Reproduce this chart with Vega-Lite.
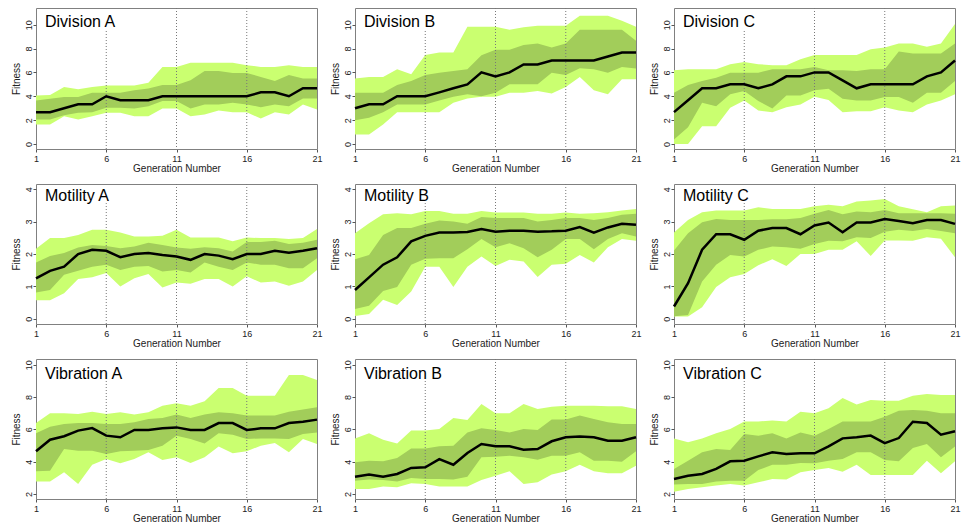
{
"$schema":"https://vega.github.io/schema/vega-lite/v6.json",
"padding":{"left":10,"top":7,"right":0,"bottom":3},
"data":{"values":[
{"r":"D","c":"A","g":1,"lo":1.63,"q1":2.05,"md":2.67,"q3":3.65,"hi":4.07,"n":"Division A"},
{"r":"D","c":"A","g":2,"lo":1.63,"q1":2.05,"md":2.67,"q3":3.8,"hi":4.1},
{"r":"D","c":"A","g":3,"lo":2.33,"q1":2.4,"md":3.0,"q3":3.93,"hi":4.78},
{"r":"D","c":"A","g":4,"lo":2.05,"q1":2.61,"md":3.33,"q3":3.93,"hi":4.58},
{"r":"D","c":"A","g":5,"lo":2.33,"q1":2.67,"md":3.33,"q3":4.3,"hi":4.78},
{"r":"D","c":"A","g":6,"lo":2.61,"q1":3.03,"md":4.0,"q3":4.3,"hi":4.9},
{"r":"D","c":"A","g":7,"lo":2.61,"q1":3.03,"md":3.67,"q3":4.3,"hi":4.9},
{"r":"D","c":"A","g":8,"lo":2.33,"q1":2.98,"md":3.67,"q3":4.5,"hi":4.9},
{"r":"D","c":"A","g":9,"lo":2.33,"q1":3.17,"md":3.67,"q3":4.66,"hi":5.14},
{"r":"D","c":"A","g":10,"lo":2.98,"q1":3.6,"md":4.0,"q3":4.94,"hi":6.46},
{"r":"D","c":"A","g":11,"lo":2.98,"q1":3.6,"md":4.0,"q3":4.94,"hi":6.46},
{"r":"D","c":"A","g":12,"lo":2.33,"q1":2.98,"md":4.0,"q3":5.34,"hi":6.8},
{"r":"D","c":"A","g":13,"lo":2.47,"q1":3.31,"md":4.0,"q3":6.12,"hi":6.8},
{"r":"D","c":"A","g":14,"lo":2.81,"q1":3.31,"md":4.0,"q3":6.12,"hi":6.8},
{"r":"D","c":"A","g":15,"lo":2.67,"q1":3.45,"md":4.0,"q3":5.96,"hi":6.8},
{"r":"D","c":"A","g":16,"lo":2.67,"q1":3.31,"md":4.0,"q3":5.96,"hi":6.6},
{"r":"D","c":"A","g":17,"lo":2.13,"q1":3.09,"md":4.33,"q3":5.62,"hi":6.46},
{"r":"D","c":"A","g":18,"lo":2.67,"q1":3.31,"md":4.33,"q3":5.28,"hi":6.46},
{"r":"D","c":"A","g":19,"lo":2.47,"q1":3.17,"md":4.0,"q3":5.79,"hi":6.6},
{"r":"D","c":"A","g":20,"lo":3.31,"q1":3.82,"md":4.67,"q3":5.48,"hi":6.46},
{"r":"D","c":"A","g":21,"lo":2.9,"q1":3.82,"md":4.67,"q3":5.48,"hi":6.46},
{"r":"D","c":"B","g":1,"lo":0.79,"q1":2.0,"md":3.0,"q3":4.3,"hi":5.5,"n":"Division B"},
{"r":"D","c":"B","g":2,"lo":0.79,"q1":2.19,"md":3.33,"q3":4.3,"hi":5.62},
{"r":"D","c":"B","g":3,"lo":1.63,"q1":2.67,"md":3.33,"q3":4.3,"hi":5.62},
{"r":"D","c":"B","g":4,"lo":2.67,"q1":3.31,"md":4.0,"q3":4.94,"hi":6.26},
{"r":"D","c":"B","g":5,"lo":2.67,"q1":3.31,"md":4.0,"q3":5.28,"hi":5.84},
{"r":"D","c":"B","g":6,"lo":2.67,"q1":3.31,"md":4.0,"q3":5.79,"hi":7.47},
{"r":"D","c":"B","g":7,"lo":2.67,"q1":3.65,"md":4.33,"q3":5.98,"hi":7.67},
{"r":"D","c":"B","g":8,"lo":3.45,"q1":3.96,"md":4.67,"q3":6.12,"hi":7.67},
{"r":"D","c":"B","g":9,"lo":3.82,"q1":4.16,"md":5.0,"q3":6.26,"hi":9.83},
{"r":"D","c":"B","g":10,"lo":3.96,"q1":4.0,"md":6.0,"q3":7.44,"hi":9.83},
{"r":"D","c":"B","g":11,"lo":3.96,"q1":4.3,"md":5.67,"q3":7.9,"hi":9.83},
{"r":"D","c":"B","g":12,"lo":4.3,"q1":5.0,"md":6.0,"q3":7.9,"hi":9.58},
{"r":"D","c":"B","g":13,"lo":4.3,"q1":5.0,"md":6.67,"q3":8.29,"hi":9.78},
{"r":"D","c":"B","g":14,"lo":4.44,"q1":5.0,"md":6.67,"q3":8.43,"hi":9.92},
{"r":"D","c":"B","g":15,"lo":4.24,"q1":5.98,"md":7.0,"q3":8.09,"hi":9.92},
{"r":"D","c":"B","g":16,"lo":4.78,"q1":5.79,"md":7.0,"q3":8.43,"hi":9.92},
{"r":"D","c":"B","g":17,"lo":5.62,"q1":6.35,"md":7.0,"q3":9.58,"hi":10.76},
{"r":"D","c":"B","g":18,"lo":4.5,"q1":6.26,"md":7.0,"q3":9.58,"hi":10.76},
{"r":"D","c":"B","g":19,"lo":4.16,"q1":5.98,"md":7.33,"q3":9.58,"hi":10.76},
{"r":"D","c":"B","g":20,"lo":5.42,"q1":6.46,"md":7.67,"q3":9.58,"hi":10.34},
{"r":"D","c":"B","g":21,"lo":5.42,"q1":6.32,"md":7.67,"q3":8.65,"hi":9.83},
{"r":"D","c":"C","g":1,"lo":0.0,"q1":0.37,"md":2.67,"q3":4.3,"hi":6.18,"n":"Division C"},
{"r":"D","c":"C","g":2,"lo":0.0,"q1":1.4,"md":3.67,"q3":4.94,"hi":6.26},
{"r":"D","c":"C","g":3,"lo":1.49,"q1":3.45,"md":4.67,"q3":5.28,"hi":6.26},
{"r":"D","c":"C","g":4,"lo":1.49,"q1":3.17,"md":4.67,"q3":5.56,"hi":6.26},
{"r":"D","c":"C","g":5,"lo":3.03,"q1":4.16,"md":5.0,"q3":5.98,"hi":6.69},
{"r":"D","c":"C","g":6,"lo":3.65,"q1":4.44,"md":5.0,"q3":5.98,"hi":6.88},
{"r":"D","c":"C","g":7,"lo":2.81,"q1":3.6,"md":4.67,"q3":5.98,"hi":6.69},
{"r":"D","c":"C","g":8,"lo":2.67,"q1":2.98,"md":5.0,"q3":6.26,"hi":6.6},
{"r":"D","c":"C","g":9,"lo":3.09,"q1":4.07,"md":5.67,"q3":6.26,"hi":6.6},
{"r":"D","c":"C","g":10,"lo":3.31,"q1":4.07,"md":5.67,"q3":6.26,"hi":7.1},
{"r":"D","c":"C","g":11,"lo":3.96,"q1":4.5,"md":6.0,"q3":6.46,"hi":7.47},
{"r":"D","c":"C","g":12,"lo":3.68,"q1":4.63,"md":6.0,"q3":6.18,"hi":7.47},
{"r":"D","c":"C","g":13,"lo":2.67,"q1":3.8,"md":5.33,"q3":6.18,"hi":7.47},
{"r":"D","c":"C","g":14,"lo":2.75,"q1":3.65,"md":4.67,"q3":6.12,"hi":7.47},
{"r":"D","c":"C","g":15,"lo":2.75,"q1":3.65,"md":5.0,"q3":6.26,"hi":7.95},
{"r":"D","c":"C","g":16,"lo":3.09,"q1":3.93,"md":5.0,"q3":6.26,"hi":8.09},
{"r":"D","c":"C","g":17,"lo":2.81,"q1":3.93,"md":5.0,"q3":7.75,"hi":8.43},
{"r":"D","c":"C","g":18,"lo":2.67,"q1":3.45,"md":5.0,"q3":7.58,"hi":8.43},
{"r":"D","c":"C","g":19,"lo":3.31,"q1":4.3,"md":5.67,"q3":7.58,"hi":8.15},
{"r":"D","c":"C","g":20,"lo":3.65,"q1":4.3,"md":6.0,"q3":7.58,"hi":8.43},
{"r":"D","c":"C","g":21,"lo":4.16,"q1":5.28,"md":7.0,"q3":8.43,"hi":10.06},
{"r":"M","c":"A","g":1,"lo":0.57,"q1":0.81,"md":1.25,"q3":1.74,"hi":2.16,"n":"Motility A"},
{"r":"M","c":"A","g":2,"lo":0.57,"q1":0.89,"md":1.48,"q3":1.94,"hi":2.49},
{"r":"M","c":"A","g":3,"lo":0.79,"q1":1.36,"md":1.61,"q3":2.03,"hi":2.49},
{"r":"M","c":"A","g":4,"lo":1.23,"q1":1.48,"md":2.0,"q3":2.2,"hi":2.59},
{"r":"M","c":"A","g":5,"lo":1.28,"q1":1.61,"md":2.13,"q3":2.28,"hi":2.75},
{"r":"M","c":"A","g":6,"lo":1.41,"q1":1.67,"md":2.1,"q3":2.25,"hi":2.75},
{"r":"M","c":"A","g":7,"lo":1.0,"q1":1.51,"md":1.9,"q3":2.18,"hi":2.66},
{"r":"M","c":"A","g":8,"lo":1.25,"q1":1.61,"md":2.0,"q3":2.23,"hi":2.54},
{"r":"M","c":"A","g":9,"lo":1.38,"q1":1.63,"md":2.03,"q3":2.35,"hi":2.54},
{"r":"M","c":"A","g":10,"lo":0.97,"q1":1.46,"md":1.97,"q3":2.28,"hi":2.56},
{"r":"M","c":"A","g":11,"lo":1.12,"q1":1.51,"md":1.92,"q3":2.2,"hi":2.75},
{"r":"M","c":"A","g":12,"lo":1.08,"q1":1.43,"md":1.82,"q3":2.16,"hi":2.51},
{"r":"M","c":"A","g":13,"lo":1.23,"q1":1.74,"md":2.0,"q3":2.21,"hi":2.51},
{"r":"M","c":"A","g":14,"lo":1.23,"q1":1.61,"md":1.95,"q3":2.18,"hi":2.51},
{"r":"M","c":"A","g":15,"lo":1.0,"q1":1.51,"md":1.84,"q3":2.08,"hi":2.39},
{"r":"M","c":"A","g":16,"lo":1.31,"q1":1.74,"md":2.0,"q3":2.37,"hi":2.51},
{"r":"M","c":"A","g":17,"lo":1.12,"q1":1.67,"md":2.0,"q3":2.37,"hi":2.49},
{"r":"M","c":"A","g":18,"lo":1.15,"q1":1.67,"md":2.1,"q3":2.41,"hi":2.49},
{"r":"M","c":"A","g":19,"lo":1.02,"q1":1.56,"md":2.04,"q3":2.31,"hi":2.46},
{"r":"M","c":"A","g":20,"lo":1.15,"q1":1.56,"md":2.1,"q3":2.35,"hi":2.49},
{"r":"M","c":"A","g":21,"lo":1.51,"q1":1.87,"md":2.18,"q3":2.44,"hi":2.77},
{"r":"M","c":"B","g":1,"lo":0.09,"q1":0.3,"md":0.89,"q3":1.84,"hi":2.64,"n":"Motility B"},
{"r":"M","c":"B","g":2,"lo":0.15,"q1":0.4,"md":1.28,"q3":1.97,"hi":2.95},
{"r":"M","c":"B","g":3,"lo":0.59,"q1":0.86,"md":1.67,"q3":2.59,"hi":3.23},
{"r":"M","c":"B","g":4,"lo":0.43,"q1":0.98,"md":1.9,"q3":2.8,"hi":3.26},
{"r":"M","c":"B","g":5,"lo":0.84,"q1":1.67,"md":2.39,"q3":2.8,"hi":3.23},
{"r":"M","c":"B","g":6,"lo":1.61,"q1":1.85,"md":2.56,"q3":2.93,"hi":3.33},
{"r":"M","c":"B","g":7,"lo":1.61,"q1":1.87,"md":2.66,"q3":3.03,"hi":3.33},
{"r":"M","c":"B","g":8,"lo":0.98,"q1":1.87,"md":2.66,"q3":3.0,"hi":3.24},
{"r":"M","c":"B","g":9,"lo":1.61,"q1":2.15,"md":2.68,"q3":2.93,"hi":3.24},
{"r":"M","c":"B","g":10,"lo":1.92,"q1":2.46,"md":2.77,"q3":3.14,"hi":3.33},
{"r":"M","c":"B","g":11,"lo":1.63,"q1":2.21,"md":2.69,"q3":3.11,"hi":3.28},
{"r":"M","c":"B","g":12,"lo":1.82,"q1":2.33,"md":2.72,"q3":3.11,"hi":3.28},
{"r":"M","c":"B","g":13,"lo":1.77,"q1":2.18,"md":2.72,"q3":3.11,"hi":3.28},
{"r":"M","c":"B","g":14,"lo":1.29,"q1":1.9,"md":2.69,"q3":3.0,"hi":3.24},
{"r":"M","c":"B","g":15,"lo":1.67,"q1":2.13,"md":2.7,"q3":3.05,"hi":3.24},
{"r":"M","c":"B","g":16,"lo":1.7,"q1":2.46,"md":2.72,"q3":3.11,"hi":3.28},
{"r":"M","c":"B","g":17,"lo":1.97,"q1":2.46,"md":2.83,"q3":3.11,"hi":3.24},
{"r":"M","c":"B","g":18,"lo":1.74,"q1":2.15,"md":2.66,"q3":3.05,"hi":3.26},
{"r":"M","c":"B","g":19,"lo":2.21,"q1":2.46,"md":2.82,"q3":3.11,"hi":3.29},
{"r":"M","c":"B","g":20,"lo":2.46,"q1":2.64,"md":2.93,"q3":3.21,"hi":3.34},
{"r":"M","c":"B","g":21,"lo":2.41,"q1":2.54,"md":2.9,"q3":3.24,"hi":3.39},
{"r":"M","c":"C","g":1,"lo":0.07,"q1":0.08,"md":0.38,"q3":2.11,"hi":2.66,"n":"Motility C"},
{"r":"M","c":"C","g":2,"lo":0.07,"q1":0.12,"md":1.1,"q3":2.64,"hi":3.05},
{"r":"M","c":"C","g":3,"lo":0.36,"q1":1.15,"md":2.13,"q3":2.98,"hi":3.29},
{"r":"M","c":"C","g":4,"lo":0.98,"q1":1.67,"md":2.61,"q3":3.08,"hi":3.34},
{"r":"M","c":"C","g":5,"lo":1.28,"q1":1.97,"md":2.61,"q3":3.05,"hi":3.34},
{"r":"M","c":"C","g":6,"lo":1.38,"q1":1.92,"md":2.44,"q3":3.05,"hi":3.34},
{"r":"M","c":"C","g":7,"lo":1.65,"q1":2.13,"md":2.72,"q3":3.05,"hi":3.44},
{"r":"M","c":"C","g":8,"lo":1.84,"q1":2.23,"md":2.8,"q3":3.07,"hi":3.39},
{"r":"M","c":"C","g":9,"lo":1.63,"q1":2.21,"md":2.8,"q3":3.07,"hi":3.39},
{"r":"M","c":"C","g":10,"lo":2.0,"q1":2.16,"md":2.61,"q3":3.11,"hi":3.39},
{"r":"M","c":"C","g":11,"lo":2.0,"q1":2.31,"md":2.88,"q3":3.24,"hi":3.47},
{"r":"M","c":"C","g":12,"lo":2.13,"q1":2.41,"md":2.97,"q3":3.36,"hi":3.52},
{"r":"M","c":"C","g":13,"lo":2.13,"q1":2.39,"md":2.67,"q3":3.23,"hi":3.47},
{"r":"M","c":"C","g":14,"lo":2.39,"q1":2.52,"md":2.97,"q3":3.31,"hi":3.62},
{"r":"M","c":"C","g":15,"lo":1.94,"q1":2.49,"md":2.97,"q3":3.29,"hi":3.65},
{"r":"M","c":"C","g":16,"lo":2.42,"q1":2.69,"md":3.08,"q3":3.36,"hi":3.7},
{"r":"M","c":"C","g":17,"lo":2.42,"q1":2.75,"md":3.02,"q3":3.26,"hi":3.47},
{"r":"M","c":"C","g":18,"lo":2.41,"q1":2.71,"md":2.95,"q3":3.26,"hi":3.38},
{"r":"M","c":"C","g":19,"lo":2.52,"q1":2.77,"md":3.05,"q3":3.26,"hi":3.29},
{"r":"M","c":"C","g":20,"lo":2.47,"q1":2.71,"md":3.05,"q3":3.26,"hi":3.47},
{"r":"M","c":"C","g":21,"lo":1.9,"q1":2.64,"md":2.93,"q3":3.24,"hi":3.5},
{"r":"V","c":"A","g":1,"lo":2.78,"q1":3.4,"md":4.64,"q3":5.75,"hi":6.39,"n":"Vibration A"},
{"r":"V","c":"A","g":2,"lo":2.78,"q1":3.44,"md":5.36,"q3":6.16,"hi":6.99},
{"r":"V","c":"A","g":3,"lo":3.34,"q1":4.78,"md":5.57,"q3":6.33,"hi":6.99},
{"r":"V","c":"A","g":4,"lo":2.62,"q1":4.68,"md":5.92,"q3":6.39,"hi":6.95},
{"r":"V","c":"A","g":5,"lo":3.81,"q1":4.68,"md":6.08,"q3":6.39,"hi":7.09},
{"r":"V","c":"A","g":6,"lo":4.16,"q1":4.47,"md":5.61,"q3":6.33,"hi":6.95},
{"r":"V","c":"A","g":7,"lo":3.9,"q1":4.64,"md":5.51,"q3":6.33,"hi":7.05},
{"r":"V","c":"A","g":8,"lo":4.16,"q1":4.68,"md":5.96,"q3":6.43,"hi":6.91},
{"r":"V","c":"A","g":9,"lo":4.58,"q1":4.72,"md":5.96,"q3":6.64,"hi":7.05},
{"r":"V","c":"A","g":10,"lo":4.1,"q1":4.99,"md":6.06,"q3":6.7,"hi":7.46},
{"r":"V","c":"A","g":11,"lo":4.27,"q1":5.61,"md":6.12,"q3":6.91,"hi":7.61},
{"r":"V","c":"A","g":12,"lo":3.92,"q1":5.4,"md":5.96,"q3":6.7,"hi":7.46},
{"r":"V","c":"A","g":13,"lo":4.27,"q1":5.13,"md":5.96,"q3":6.91,"hi":7.73},
{"r":"V","c":"A","g":14,"lo":4.93,"q1":5.75,"md":6.39,"q3":7.05,"hi":8.56},
{"r":"V","c":"A","g":15,"lo":4.52,"q1":5.67,"md":6.39,"q3":6.99,"hi":8.56},
{"r":"V","c":"A","g":16,"lo":4.64,"q1":5.4,"md":5.96,"q3":6.85,"hi":8.08},
{"r":"V","c":"A","g":17,"lo":4.99,"q1":5.44,"md":6.06,"q3":6.85,"hi":8.08},
{"r":"V","c":"A","g":18,"lo":5.15,"q1":5.44,"md":6.06,"q3":6.85,"hi":8.08},
{"r":"V","c":"A","g":19,"lo":4.58,"q1":5.4,"md":6.39,"q3":7.09,"hi":9.36},
{"r":"V","c":"A","g":20,"lo":5.4,"q1":5.71,"md":6.47,"q3":7.22,"hi":9.36},
{"r":"V","c":"A","g":21,"lo":5.09,"q1":5.81,"md":6.6,"q3":7.36,"hi":9.05},
{"r":"V","c":"B","g":1,"lo":2.31,"q1":2.82,"md":3.07,"q3":3.96,"hi":5.44,"n":"Vibration B"},
{"r":"V","c":"B","g":2,"lo":2.31,"q1":2.89,"md":3.2,"q3":4.06,"hi":5.75},
{"r":"V","c":"B","g":3,"lo":2.47,"q1":2.87,"md":3.07,"q3":4.02,"hi":5.36},
{"r":"V","c":"B","g":4,"lo":2.41,"q1":2.78,"md":3.24,"q3":4.23,"hi":5.13},
{"r":"V","c":"B","g":5,"lo":2.66,"q1":2.99,"md":3.61,"q3":4.82,"hi":5.92},
{"r":"V","c":"B","g":6,"lo":2.62,"q1":2.93,"md":3.65,"q3":4.82,"hi":5.92},
{"r":"V","c":"B","g":7,"lo":2.47,"q1":2.93,"md":4.16,"q3":4.95,"hi":6.02},
{"r":"V","c":"B","g":8,"lo":2.47,"q1":2.89,"md":3.81,"q3":4.99,"hi":6.7},
{"r":"V","c":"B","g":9,"lo":2.47,"q1":3.07,"md":4.54,"q3":5.81,"hi":6.58},
{"r":"V","c":"B","g":10,"lo":2.87,"q1":4.27,"md":5.09,"q3":6.06,"hi":7.57},
{"r":"V","c":"B","g":11,"lo":3.13,"q1":4.31,"md":4.95,"q3":5.96,"hi":6.99},
{"r":"V","c":"B","g":12,"lo":3.4,"q1":4.37,"md":4.95,"q3":5.81,"hi":6.99},
{"r":"V","c":"B","g":13,"lo":2.62,"q1":4.27,"md":4.74,"q3":6.02,"hi":7.57},
{"r":"V","c":"B","g":14,"lo":2.72,"q1":4.12,"md":4.78,"q3":5.96,"hi":7.26},
{"r":"V","c":"B","g":15,"lo":3.2,"q1":4.37,"md":5.26,"q3":6.6,"hi":7.4},
{"r":"V","c":"B","g":16,"lo":3.4,"q1":4.37,"md":5.51,"q3":6.6,"hi":7.46},
{"r":"V","c":"B","g":17,"lo":3.81,"q1":4.58,"md":5.55,"q3":6.85,"hi":7.46},
{"r":"V","c":"B","g":18,"lo":3.4,"q1":4.06,"md":5.51,"q3":6.64,"hi":7.46},
{"r":"V","c":"B","g":19,"lo":3.28,"q1":4.06,"md":5.3,"q3":6.43,"hi":7.42},
{"r":"V","c":"B","g":20,"lo":3.28,"q1":4.0,"md":5.3,"q3":6.33,"hi":7.42},
{"r":"V","c":"B","g":21,"lo":3.75,"q1":4.64,"md":5.51,"q3":6.33,"hi":7.26},
{"r":"V","c":"C","g":1,"lo":2.14,"q1":2.58,"md":2.93,"q3":3.55,"hi":5.44,"n":"Vibration C"},
{"r":"V","c":"C","g":2,"lo":2.31,"q1":2.62,"md":3.13,"q3":4.06,"hi":5.2},
{"r":"V","c":"C","g":3,"lo":2.41,"q1":2.62,"md":3.24,"q3":4.58,"hi":5.44},
{"r":"V","c":"C","g":4,"lo":2.52,"q1":2.78,"md":3.55,"q3":4.78,"hi":5.75},
{"r":"V","c":"C","g":5,"lo":2.62,"q1":2.82,"md":4.02,"q3":4.72,"hi":6.02},
{"r":"V","c":"C","g":6,"lo":2.52,"q1":2.82,"md":4.06,"q3":5.71,"hi":6.49},
{"r":"V","c":"C","g":7,"lo":2.72,"q1":3.48,"md":4.33,"q3":5.61,"hi":6.49},
{"r":"V","c":"C","g":8,"lo":2.93,"q1":3.81,"md":4.58,"q3":5.75,"hi":6.54},
{"r":"V","c":"C","g":9,"lo":2.89,"q1":3.81,"md":4.47,"q3":5.44,"hi":6.49},
{"r":"V","c":"C","g":10,"lo":3.34,"q1":3.92,"md":4.52,"q3":5.81,"hi":7.09},
{"r":"V","c":"C","g":11,"lo":3.48,"q1":3.9,"md":4.52,"q3":5.61,"hi":6.99},
{"r":"V","c":"C","g":12,"lo":3.61,"q1":4.06,"md":4.95,"q3":6.02,"hi":7.3},
{"r":"V","c":"C","g":13,"lo":3.38,"q1":4.16,"md":5.44,"q3":6.49,"hi":7.94},
{"r":"V","c":"C","g":14,"lo":3.81,"q1":4.58,"md":5.51,"q3":6.49,"hi":7.53},
{"r":"V","c":"C","g":15,"lo":3.18,"q1":4.58,"md":5.61,"q3":6.49,"hi":7.81},
{"r":"V","c":"C","g":16,"lo":3.18,"q1":4.1,"md":5.15,"q3":6.78,"hi":7.77},
{"r":"V","c":"C","g":17,"lo":3.18,"q1":4.02,"md":5.46,"q3":7.15,"hi":7.77},
{"r":"V","c":"C","g":18,"lo":3.18,"q1":4.85,"md":6.47,"q3":7.2,"hi":8.08},
{"r":"V","c":"C","g":19,"lo":4.06,"q1":5.09,"md":6.39,"q3":7.15,"hi":8.19},
{"r":"V","c":"C","g":20,"lo":3.28,"q1":4.27,"md":5.67,"q3":6.99,"hi":8.12},
{"r":"V","c":"C","g":21,"lo":4.02,"q1":4.93,"md":5.88,"q3":6.99,"hi":8.12}
]},
"spacing":10,
"vconcat":[
{
"transform":[{"filter":"datum.r=='D'"}],
"facet":{"column":{"field":"c","type":"nominal","title":null,"header":{"labels":false}}},
"spacing":38,
"bounds":"flush",
"resolve":{"axis":{"y":"independent"}},
"spec":{
"width":281,"height":141,
"encoding":{"x":{"field":"g","type":"quantitative","title":"Generation Number","scale":{"domain":[1,21],"nice":false,"zero":false},"axis":{"values":[1,6,11,16,21],"tickCount":12,"format":"d"}}},
"layer":[
{"mark":{"type":"area","color":"#caff70","opacity":1},"encoding":{"y":{"field":"lo","type":"quantitative","title":"Fitness","scale":{"domain":[-0.42,11.4],"nice":false,"zero":false},"axis":{"values":[0,2,4,6,8,10],"tickCount":12,"format":"d","labelOverlap":false,"labelAngle":270,"labelBaseline":"middle","labelAlign":"center"}},"y2":{"field":"hi"}}},
{"mark":{"type":"area","color":"#a2cd5a","opacity":1},"encoding":{"y":{"field":"q1","type":"quantitative","title":"Fitness"},"y2":{"field":"q3"}}},
{"transform":[{"filter":"datum.g==11||datum.g==16"}],"mark":{"type":"rule","color":"#777777","strokeWidth":1,"strokeDash":[1,2]},"encoding":{}},
{"transform":[{"filter":"datum.g==6"}],"mark":{"type":"rule","color":"#777777","strokeWidth":1,"strokeDash":[1,2]},"encoding":{"y":{"datum":-0.42},"y2":{"datum":9.63}}},
{"mark":{"type":"line","color":"#000000","strokeWidth":2.5},"encoding":{"y":{"field":"md","type":"quantitative","title":"Fitness"}}},
{"transform":[{"filter":"datum.g==1"}],"mark":{"type":"text","align":"left","baseline":"alphabetic","dx":9,"dy":19,"fontSize":16,"font":"Liberation Sans","color":"#000000"},"encoding":{"y":{"datum":11.4},"text":{"field":"n"}}}
]}
},
{
"transform":[{"filter":"datum.r=='M'"}],
"facet":{"column":{"field":"c","type":"nominal","title":null,"header":{"labels":false}}},
"spacing":38,
"bounds":"flush",
"resolve":{"axis":{"y":"independent"}},
"spec":{
"width":281,"height":140,
"encoding":{"x":{"field":"g","type":"quantitative","title":"Generation Number","scale":{"domain":[1,21],"nice":false,"zero":false},"axis":{"values":[1,6,11,16,21],"tickCount":12,"format":"d"}}},
"layer":[
{"mark":{"type":"area","color":"#caff70","opacity":1},"encoding":{"y":{"field":"lo","type":"quantitative","title":"Fitness","scale":{"domain":[-0.16,4.16],"nice":false,"zero":false},"axis":{"values":[0,1,2,3,4],"tickCount":12,"format":"d","labelOverlap":false,"labelAngle":270,"labelBaseline":"middle","labelAlign":"center"}},"y2":{"field":"hi"}}},
{"mark":{"type":"area","color":"#a2cd5a","opacity":1},"encoding":{"y":{"field":"q1","type":"quantitative","title":"Fitness"},"y2":{"field":"q3"}}},
{"transform":[{"filter":"datum.g==11||datum.g==16"}],"mark":{"type":"rule","color":"#777777","strokeWidth":1,"strokeDash":[1,2]},"encoding":{}},
{"transform":[{"filter":"datum.g==6"}],"mark":{"type":"rule","color":"#777777","strokeWidth":1,"strokeDash":[1,2]},"encoding":{"y":{"datum":-0.16},"y2":{"datum":3.57}}},
{"mark":{"type":"line","color":"#000000","strokeWidth":2.5},"encoding":{"y":{"field":"md","type":"quantitative","title":"Fitness"}}},
{"transform":[{"filter":"datum.g==1"}],"mark":{"type":"text","align":"left","baseline":"alphabetic","dx":9,"dy":17,"fontSize":16,"font":"Liberation Sans","color":"#000000"},"encoding":{"y":{"datum":4.16},"text":{"field":"n"}}}
]}
},
{
"transform":[{"filter":"datum.r=='V'"}],
"facet":{"column":{"field":"c","type":"nominal","title":null,"header":{"labels":false}}},
"spacing":38,
"bounds":"flush",
"resolve":{"axis":{"y":"independent"}},
"spec":{
"width":281,"height":140,
"encoding":{"x":{"field":"g","type":"quantitative","title":"Generation Number","scale":{"domain":[1,21],"nice":false,"zero":false},"axis":{"values":[1,6,11,16,21],"tickCount":12,"format":"d"}}},
"layer":[
{"mark":{"type":"area","color":"#caff70","opacity":1},"encoding":{"y":{"field":"lo","type":"quantitative","title":"Fitness","scale":{"domain":[1.69,10.35],"nice":false,"zero":false},"axis":{"values":[2,4,6,8,10],"tickCount":12,"format":"d","labelOverlap":false,"labelAngle":270,"labelBaseline":"middle","labelAlign":"center"}},"y2":{"field":"hi"}}},
{"mark":{"type":"area","color":"#a2cd5a","opacity":1},"encoding":{"y":{"field":"q1","type":"quantitative","title":"Fitness"},"y2":{"field":"q3"}}},
{"transform":[{"filter":"datum.g==11||datum.g==16"}],"mark":{"type":"rule","color":"#777777","strokeWidth":1,"strokeDash":[1,2]},"encoding":{}},
{"transform":[{"filter":"datum.g==6"}],"mark":{"type":"rule","color":"#777777","strokeWidth":1,"strokeDash":[1,2]},"encoding":{"y":{"datum":1.69},"y2":{"datum":8.99}}},
{"mark":{"type":"line","color":"#000000","strokeWidth":2.5},"encoding":{"y":{"field":"md","type":"quantitative","title":"Fitness"}}},
{"transform":[{"filter":"datum.g==1"}],"mark":{"type":"text","align":"left","baseline":"alphabetic","dx":9,"dy":20,"fontSize":16,"font":"Liberation Sans","color":"#000000"},"encoding":{"y":{"datum":10.35},"text":{"field":"n"}}}
]}
}
],
"config":{
"view":{"stroke":"#808080","strokeWidth":1},
"font":"Liberation Sans",
"axis":{"grid":false,"domain":false,"tickSize":3,"tickColor":"#555555","labelFontSize":9,"labelColor":"#222222","titleFontSize":10,"titleFontWeight":"normal","titleColor":"#222222","labelFont":"Liberation Sans","titleFont":"Liberation Sans","labelOverlap":false,"tickCount":12},
"axisY":{"labelPadding":5,"titlePadding":3,"labelOverlap":false},
"axisX":{"labelPadding":2,"titlePadding":0,"labelFlush":false}
}
}
